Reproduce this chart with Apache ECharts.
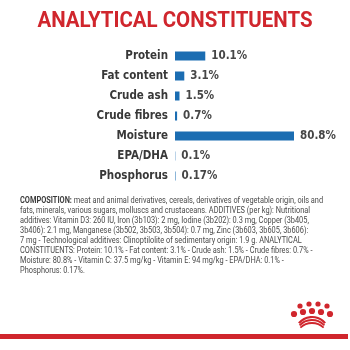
<!DOCTYPE html>
<html>
<head>
<meta charset="utf-8">
<script src="https://cdn.jsdelivr.net/npm/echarts@6.0.0/dist/echarts.min.js"></script>
<style>
html,body{margin:0;padding:0;background:#fff;}
#chart{width:350px;height:350px;}
</style>
</head>
<body>
<div id="chart"></div>
<script>
var titleText = 'ANALYTICAL CONSTITUENTS';
var categories = ['Protein', 'Fat content', 'Crude ash', 'Crude fibres', 'Moisture', 'EPA/DHA', 'Phosphorus'];
var values = [10.1, 3.1, 1.5, 0.7, 80.8, 0.1, 0.17];
var valueLabels = ['10.1%', '3.1%', '1.5%', '0.7%', '80.8%', '0.1%', '0.17%'];
var compositionLines = [
  '{b|COMPOSITION:} meat and animal derivatives, cereals, derivatives of vegetable origin, oils and',
  'fats, minerals, various sugars, molluscs and crustaceans. ADDITIVES (per kg): Nutritional',
  'additives: Vitamin D3: 260 IU, Iron (3b103): 2 mg, Iodine (3b202): 0.3 mg, Copper (3b405,',
  '3b406): 2.1 mg, Manganese (3b502, 3b503, 3b504): 0.7 mg, Zinc (3b603, 3b605, 3b606):',
  '7 mg - Technological additives: Clinoptilolite of sedimentary origin: 1.9 g. ANALYTICAL',
  'CONSTITUENTS: Protein: 10.1% - Fat content: 3.1% - Crude ash: 1.5% - Crude fibres: 0.7% -',
  'Moisture: 80.8% - Vitamin C: 37.5 mg/kg - Vitamin E: 94 mg/kg - EPA/DHA: 0.1% -',
  'Phosphorus: 0.17%.'
];

var condensed = '"DejaVu Sans Condensed", Roboto, sans-serif';
var red = '#d0262d';
var blue = '#1b6db2';

var chart = echarts.init(document.getElementById('chart'), null, {renderer: 'canvas'});

var crownDots = [];
var topRow = [[300,306],[309,304],[318,304],[327,306]];
var midRow = [[294,314],[303,312],[312,311],[321,312],[330,314]];
topRow.concat(midRow).forEach(function(p, i){
  crownDots.push({type:'circle', shape:{cx:p[0], cy:p[1], r: i < 4 ? 2.6 : 3.1}, style:{fill:red}, silent:true});
});

var option = {
  animation: false,
  backgroundColor: '#fff',
  grid: {left: 175, top: 46, width: 119, height: 140, containLabel: false},
  xAxis: {
    type: 'value', min: 0, max: 80.8,
    breaks: [{start: 15, end: 56.1, gap: 0}],
    breakArea: {show: false},
    axisLine: {show: false}, axisTick: {show: false}, axisLabel: {show: false}, splitLine: {show: false}
  },
  yAxis: {
    type: 'category', data: categories, inverse: true,
    axisLine: {show: false}, axisTick: {show: false}, splitLine: {show: false},
    axisLabel: {margin: 7, color: '#383838', fontWeight: 'bold', fontSize: 11.5, fontFamily: condensed}
  },
  series: [{
    type: 'bar', data: values, barWidth: 9,
    itemStyle: {color: blue},
    label: {
      show: true, position: 'right', distance: 6,
      color: '#464646', fontSize: 11.5, fontWeight: 'bold', fontFamily: condensed,
      formatter: function(p){ return valueLabels[p.dataIndex]; }
    }
  }],
  graphic: [
    {type:'text', x:175, y:21, scaleX:0.93,
     style:{text:titleText, fill:red, font:'bold 22px Roboto', textAlign:'center', textVerticalAlign:'middle'}},
    {type:'text', x:20, y:196, scaleX:0.777,
     style:{text: compositionLines.join('\n'), fill:'#4a4a4a', fontSize:9.5, fontFamily:'Roboto', lineHeight:9.9,
            rich:{b:{fontWeight:'bold', fill:'#3c3c3c', fontSize:9.5, fontFamily:'Roboto', lineHeight:9.9}}}},
    {type:'group', children: crownDots.concat([
      {type:'arc', shape:{cx:312, cy:334, r:17, startAngle:Math.PI*1.22, endAngle:Math.PI*1.78}, style:{stroke:red, lineWidth:2.2, fill:null}, silent:true},
      {type:'arc', shape:{cx:312, cy:337, r:17, startAngle:Math.PI*1.24, endAngle:Math.PI*1.76}, style:{stroke:red, lineWidth:2, fill:null}, silent:true},
      {type:'arc', shape:{cx:312, cy:340, r:17, startAngle:Math.PI*1.26, endAngle:Math.PI*1.74}, style:{stroke:red, lineWidth:1.8, fill:null}, silent:true}
    ])},
    {type:'rect', shape:{x:0, y:334, width:348, height:5}, style:{fill:red}, silent:true}
  ]
};
chart.setOption(option);
</script>
</body>
</html>
